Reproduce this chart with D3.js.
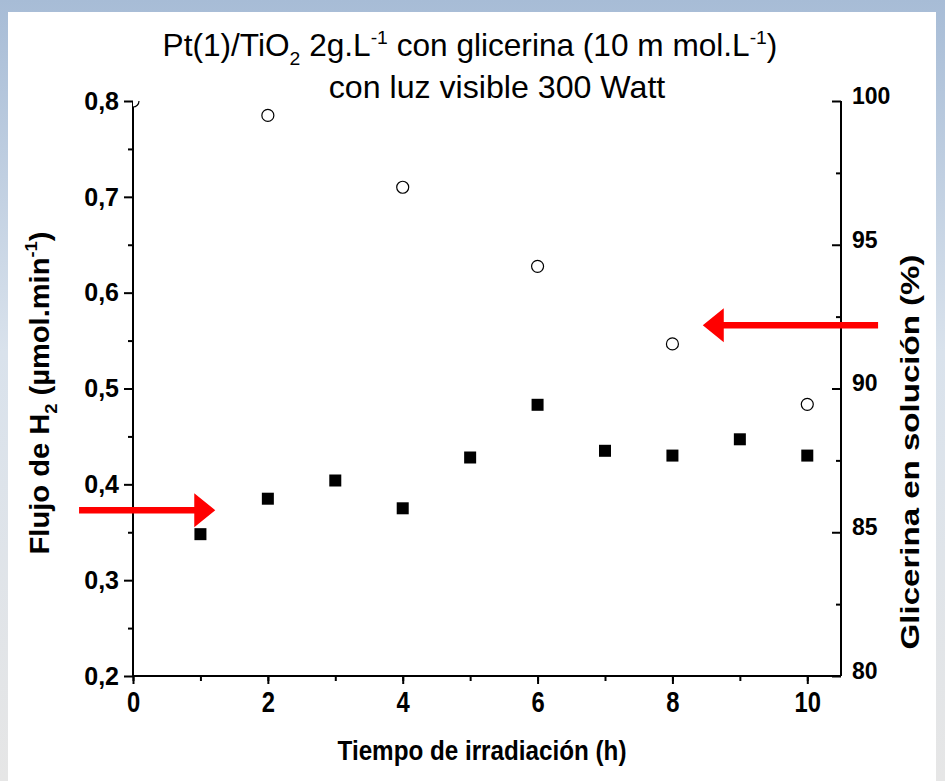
<!DOCTYPE html>
<html>
<head>
<meta charset="utf-8">
<script src="https://cdn.jsdelivr.net/npm/d3@7"></script>
<style>
  html, body { margin: 0; padding: 0; background: #fff; }
  svg { display: block; }
</style>
</head>
<body>
<div id="chart"></div>
<script>
// data
const tiempoH2 = [1, 2, 3, 4, 5, 6, 7, 8, 9, 10];
const flujoH2 = [0.348, 0.385, 0.404, 0.375, 0.428, 0.483, 0.435, 0.43, 0.447, 0.43];
const tiempoGli = [0, 2, 4, 6, 8, 10];
const glicerina = [100, 99.5, 97.0, 94.25, 91.55, 89.45];
const xTicks = [0, 2, 4, 6, 8, 10];
const yLeftTicks = [0.2, 0.3, 0.4, 0.5, 0.6, 0.7, 0.8];
const yRightTicks = [80, 85, 90, 95, 100];
// arrows: [x from, x to, y] in data units of their axis
const arrowLeft = [-0.8, 1.22, 0.373];
const arrowRight = [11.05, 8.45, 92.2];

const W = 945, H = 781;
const sans = "'Liberation Sans', Arial, sans-serif";

const svg = d3.select('#chart').append('svg').attr('width', W).attr('height', H);

const defs = svg.append('defs');
const grad = defs.append('linearGradient').attr('id', 'bg').attr('x1', 0).attr('y1', 0).attr('x2', 0).attr('y2', 1);
grad.append('stop').attr('offset', '0%').attr('stop-color', '#a7bcd6');
grad.append('stop').attr('offset', '45%').attr('stop-color', '#d9e2ec');
grad.append('stop').attr('offset', '100%').attr('stop-color', '#e6e6e6');
svg.append('rect').attr('width', W).attr('height', H).attr('fill', 'url(#bg)');
svg.append('rect').attr('x', 8).attr('y', 12).attr('width', 928).attr('height', H - 12).attr('fill', '#fff');

const x = d3.scaleLinear().domain([0, 10.5]).range([133, 841]);
const yL = d3.scaleLinear().domain([0.2, 0.8]).range([676, 101]);
const yR = d3.scaleLinear().domain([80, 100]).range([676, 101]);

defs.append('clipPath').attr('id', 'plot')
    .append('rect')
    .attr('x', x(0)).attr('y', yL(0.8))
    .attr('width', x(10.5) - x(0)).attr('height', yL(0.2) - yL(0.8));

// squeeze a text horizontally (along its own baseline) to a given width
function fit(text, width, pre) {
    const w = text.node().getBBox().width;
    text.attr('transform', `${pre} scale(${width / w},1)`);
}

// axes
const gx = svg.append('g').attr('transform', `translate(0,${yL(0.2)})`);
gx.call(d3.axisBottom(x).tickValues(d3.range(0, 11, 1)).tickSize(5).tickFormat(''));
gx.call((g) => g.select('.domain').remove());
gx.append('g').call(d3.axisBottom(x).tickValues(xTicks).tickSize(8).tickPadding(7).tickFormat(d3.format('d')));

const gl = svg.append('g').attr('transform', `translate(${x(0)},0)`);
gl.call(d3.axisLeft(yL).tickValues(d3.range(0.25, 0.8, 0.1)).tickSize(5).tickFormat(''));
gl.append('g').call(d3.axisLeft(yL).tickValues(yLeftTicks).tickSize(9).tickPadding(5)
    .tickFormat((d) => d3.format('.1f')(d).replace('.', ',')));

const gr = svg.append('g').attr('transform', `translate(${x(10.5)},0)`);
gr.call(d3.axisRight(yR).tickValues([82.5, 87.5, 92.5, 97.5]).tickSize(-5).tickFormat(''));
gr.append('g').call(d3.axisRight(yR).tickValues(yRightTicks).tickSize(-9).tickPadding(11).tickFormat(d3.format('d')));

svg.selectAll('.domain').attr('stroke', '#000').attr('stroke-width', 2);
svg.selectAll('.tick line').attr('stroke', '#000').attr('stroke-width', 2);
gx.selectAll('.domain').attr('d', `M${x(0)},0H${x(10.5)}`);
gl.selectAll('.domain').attr('d', `M0,${yL(0.2)}V${yL(0.8)}`);
gr.selectAll('.domain').attr('d', `M0,${yR(80)}V${yR(100)}`);

gx.selectAll('.tick text').attr('font-family', sans).attr('font-size', 29).attr('font-weight', 'bold').attr('fill', '#000')
    .attr('transform', 'scale(0.82,1)');
gl.selectAll('.tick text').attr('font-family', sans).attr('font-size', 25).attr('font-weight', 'bold').attr('fill', '#000').attr('dy', '0.33em');
gr.selectAll('.tick text').attr('font-family', sans).attr('font-size', 23).attr('font-weight', 'bold').attr('fill', '#000').attr('dy', '0.1em');

// points
const plot = svg.append('g').attr('clip-path', 'url(#plot)');
plot.selectAll('circle')
    .data(tiempoGli)
    .join('circle')
    .attr('cx', (d) => x(d))
    .attr('cy', (d, i) => yR(glicerina[i]))
    .attr('r', 6)
    .attr('fill', '#fff')
    .attr('stroke', '#000')
    .attr('stroke-width', 1.2);

const sq = 12;
svg.append('g').selectAll('rect')
    .data(tiempoH2)
    .join('rect')
    .attr('x', (d) => x(d) - sq / 2)
    .attr('y', (d, i) => yL(flujoH2[i]) - sq / 2)
    .attr('width', sq)
    .attr('height', sq)
    .attr('fill', '#000');

// red arrows
function arrow(x0, x1, y) {
    const dir = Math.sign(x1 - x0);
    const headLen = 21, headHalf = 17, shaft = 3.3;
    const xb = x1 - dir * headLen;
    return `M${x0},${y - shaft}L${xb},${y - shaft}L${xb},${y - headHalf}L${x1},${y}` +
        `L${xb},${y + headHalf}L${xb},${y + shaft}L${x0},${y + shaft}Z`;
}
svg.append('path').attr('d', arrow(x(arrowLeft[0]), x(arrowLeft[1]), yL(arrowLeft[2]))).attr('fill', '#ff0000');
svg.append('path').attr('d', arrow(x(arrowRight[0]), x(arrowRight[1]), yR(arrowRight[2]))).attr('fill', '#ff0000');

// titles
const t1 = svg.append('text')
    .attr('text-anchor', 'middle')
    .attr('font-family', sans).attr('font-size', 31).attr('fill', '#000');
t1.append('tspan').text('Pt(1)/TiO');
t1.append('tspan').attr('dy', 9).attr('font-size', 19).text('2');
t1.append('tspan').attr('dy', -9).text(' 2g.L');
t1.append('tspan').attr('dy', -12).attr('font-size', 19).text('-1');
t1.append('tspan').attr('dy', 12).text(' con glicerina (10 m mol.L');
t1.append('tspan').attr('dy', -12).attr('font-size', 19).text('-1');
t1.append('tspan').attr('dy', 12).text(')');
fit(t1, 615, 'translate(470,56)');

const t2 = svg.append('text')
    .attr('text-anchor', 'middle')
    .attr('font-family', sans).attr('font-size', 31).attr('fill', '#000')
    .text('con luz visible 300 Watt');
fit(t2, 337, 'translate(497,98)');

const xt = svg.append('text')
    .attr('text-anchor', 'middle')
    .attr('font-family', sans).attr('font-size', 28).attr('font-weight', 'bold').attr('fill', '#000')
    .text('Tiempo de irradiación (h)');
fit(xt, 289, 'translate(482,760)');

const yt = svg.append('text')
    .attr('text-anchor', 'middle')
    .attr('font-family', sans).attr('font-size', 27).attr('font-weight', 'bold').attr('fill', '#000');
yt.append('tspan').text('Flujo de H');
yt.append('tspan').attr('dy', 8).attr('font-size', 17).text('2');
yt.append('tspan').attr('dy', -8).text(' (µmol.min');
yt.append('tspan').attr('dy', -12).attr('font-size', 17).text('-1');
yt.append('tspan').attr('dy', 12).text(')');
fit(yt, 323, 'translate(49,393) rotate(-90)');

const rt = svg.append('text')
    .attr('text-anchor', 'middle')
    .attr('font-family', sans).attr('font-size', 26).attr('font-weight', 'bold').attr('fill', '#000')
    .text('Glicerina en solución (%)');
fit(rt, 395, 'translate(919,452) rotate(-90)');
</script>
</body>
</html>
